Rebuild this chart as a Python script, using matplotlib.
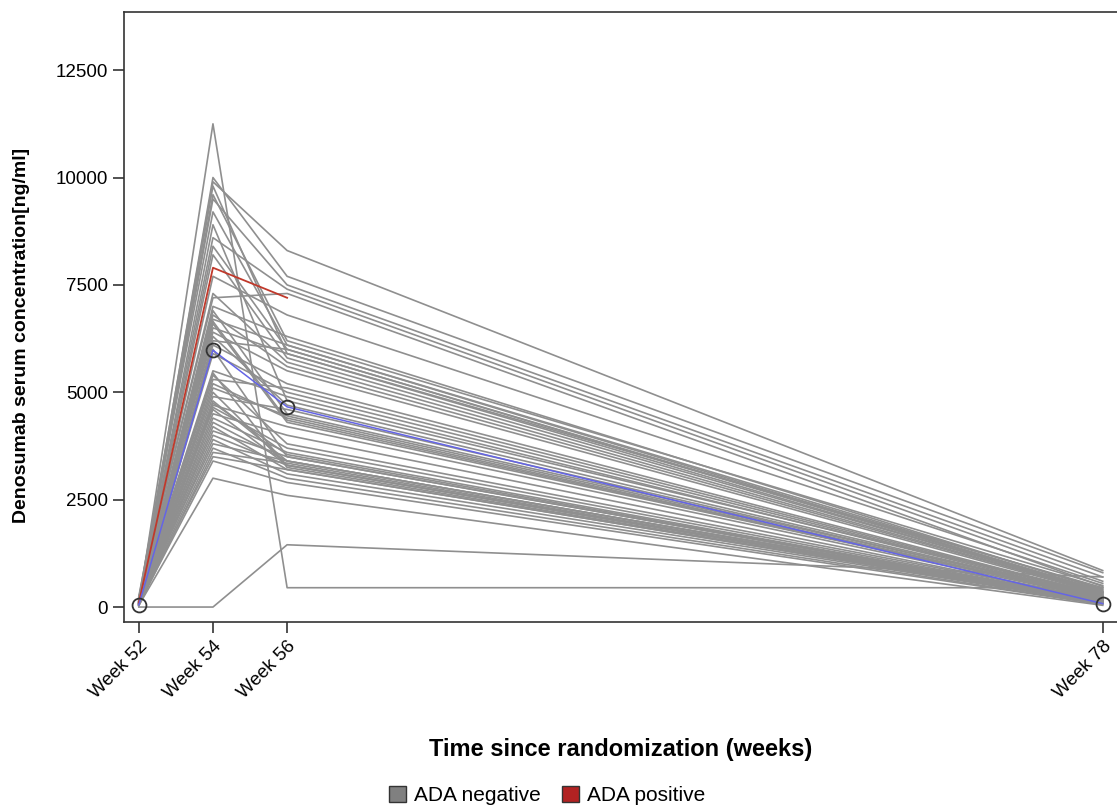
import numpy as np
import matplotlib.pyplot as plt
from matplotlib.patches import Patch

plt.rcParams['font.family'] = ['Liberation Sans', 'DejaVu Sans']

weeks = [52, 54, 56, 78]
week_labels = ['Week 52', 'Week 54', 'Week 56', 'Week 78']

# individual ADA negative subjects (ng/ml) at week 52, 54, 56, 78
wk52 = [120, 200, 90, 150, 60, 250, 80, 180, 110, 140, 70, 160, 210, 100, 50, 130,
        90, 170, 60, 110, 220, 80, 140, 30, 100, 190, 70, 120, 60, 150, 90, 40,
        110, 80, 130, 60, 100, 70, 50, 120, 90, 60, 140, 80, 30, 110, 70, 40,
        0, 60, 90, 130, 80, 50]
wk54 = [10000, 9900, 9800, 9600, 9500, 9200, 8900, 8600, 8400, 8200, 7700, 7300,
        7200, 7000, 6900, 6800, 6700, 6600, 6500, 6400, 6300, 6200, 6100, 6000,
        5900, 5500, 5400, 5300, 5200, 5000, 4900, 4800, 4700, 4650, 4600, 4500,
        4400, 4300, 4200, 4100, 4000, 3900, 3800, 3700, 3600, 3500, 3400, 3000,
        0, 11250, 5450, 6650, 5100, 4750]
wk56 = [7700, 8300, 5900, 6200, 7500, 6100, 4800, 7400, 6000, 5800, 6800, 5700,
        7300, 6300, 4500, 5600, 6100, 4300, 5900, 5500, 4700, 6000, 5200, 3500,
        5000, 4900, 3800, 5100, 4400, 3300, 4600, 3400, 4200, 3700, 3300, 4000,
        3600, 3400, 3200, 3500, 3300, 3100, 3400, 3000, 3350, 3200, 2900, 2600,
        1450, 450, 3250, 4350, 4450, 3550]
wk78 = [800, 850, 450, 500, 700, 420, 300, 600, 380, 350, 550, 330,
        480, 400, 250, 320, 360, 220, 340, 300, 240, 350, 280, 150,
        260, 240, 180, 270, 200, 120, 230, 140, 190, 160, 110, 170,
        150, 130, 100, 140, 120, 90, 130, 70, 110, 100, 60, 40,
        700, 450, 90, 210, 220, 150]

# ADA positive subject (no week 78 sample)
pos_weeks = [52, 54, 56]
pos_vals = [100, 7900, 7200]

# mean profile
mean_vals = [50, 5980, 4660, 80]

fig = plt.figure(figsize=(11.17, 8.10), dpi=100)
ax = fig.add_axes([0.111, 0.232, 0.8895, 0.753])

for i in range(len(wk54)):
    ax.plot(weeks, [wk52[i], wk54[i], wk56[i], wk78[i]], color='#8f8f8f', lw=1.2)

ax.plot(pos_weeks, pos_vals, color='#c0392b', lw=1.3)
ax.plot(weeks, mean_vals, color='#6464e6', lw=1.1, marker='o', ms=10,
        mfc='none', mec='#333333', mew=1.3)

ax.set_xlim(51.6, 78.4)
ax.set_ylim(-350, 13850)
ax.set_yticks([0, 2500, 5000, 7500, 10000, 12500])
ax.set_xticks(weeks)
ax.set_xticklabels(week_labels, rotation=45, ha='right', rotation_mode='anchor',
                   fontsize=13.5)
ax.tick_params(axis='y', labelsize=13.5)
ax.tick_params(length=8, width=1.2, color='#333333')
for s in ax.spines.values():
    s.set_color('#333333')
    s.set_linewidth(1.2)

ax.set_ylabel('Denosumab serum concentration[ng/ml]', fontsize=14,
              fontweight='bold')
ax.yaxis.set_label_coords(-0.095, 0.47)
ax.set_xlabel('Time since randomization (weeks)', fontsize=17,
              fontweight='bold', labelpad=26)

handles = [Patch(facecolor='#808080', edgecolor='#333333', label='ADA negative'),
           Patch(facecolor='#b22222', edgecolor='#333333', label='ADA positive')]
fig.legend(handles=handles, loc='center', bbox_to_anchor=(0.49, 0.018), ncol=2,
           frameon=False, fontsize=15, handlelength=0.8, handleheight=0.8,
           handletextpad=0.4, columnspacing=1.0)

fig.savefig('out.png', dpi=100)
